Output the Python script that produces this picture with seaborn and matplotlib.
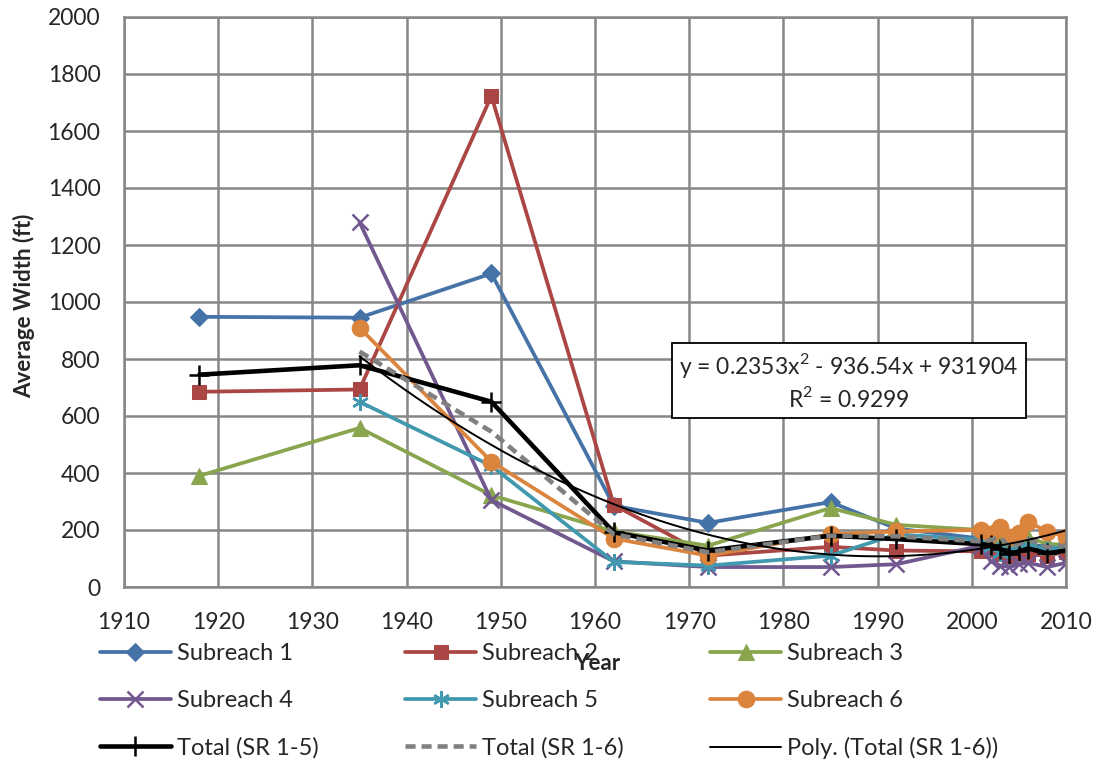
import numpy as np
import pandas as pd
import matplotlib
matplotlib.use("Agg")
import matplotlib.pyplot as plt
import seaborn as sns

# ---------------- data ----------------
years_a = [1918, 1935, 1949, 1962, 1972, 1985, 1992, 2001, 2002, 2003, 2004, 2005, 2006, 2008, 2010]
years_b = [1935, 1949, 1962, 1972, 1985, 1992, 2001, 2002, 2003, 2004, 2005, 2006, 2008, 2010]

sr1 = [948, 945, 1100, 285, 225, 298, 205, 170, 160, 145, 140, 150, 150, 140, 135]
sr2 = [685, 693, 1723, 288, 110, 141, 128, 125, 130, 115, 110, 120, 115, 110, 124]
sr3 = [390, 558, 322, 195, 145, 277, 218, 200, 190, 170, 150, 165, 175, 150, 150]
sr4 = [1280, 305, 90, 70, 70, 80, 145, 90, 75, 70, 80, 85, 70, 85]
sr5 = [650, 425, 88, 75, 110, 185, 165, 140, 120, 130, 140, 145, 130, 145]
sr6 = [910, 440, 170, 110, 185, 195, 200, 185, 211, 175, 189, 229, 194, 177]
tot15 = [745, 778, 650, 192, 128, 180, 168, 150, 148, 135, 115, 125, 135, 118, 128]
tot16 = [826, 545, 185, 122, 180, 178, 160, 165, 175, 140, 150, 170, 140, 145]

x_ticks = list(range(1910, 2011, 10))
y_ticks = list(range(0, 2001, 200))
eq_text = "y = 0.2353x$^2$ - 936.54x + 931904\nR$^2$ = 0.9299"

# ---------------- style ----------------
sns.set_theme(style="white")
plt.rcParams['font.family'] = ['Lato', 'DejaVu Sans']
plt.rcParams['mathtext.fontset'] = 'custom'
plt.rcParams['mathtext.rm'] = 'Lato'

fig = plt.figure(figsize=(11.02, 7.63), dpi=100)
ax = fig.add_axes([124/1102, 1-587/763, (1066-124)/1102, (587-17)/763])

C1, C2, C3, C4, C5, C6 = "#4572A7", "#AA4643", "#89A54E", "#71588F", "#4198AF", "#DB843D"
lw = 2.7

series = [
    ("Subreach 1", years_a, sr1, dict(color=C1, marker="D", markersize=9.5)),
    ("Subreach 2", years_a, sr2, dict(color=C2, marker="s", markersize=10.5)),
    ("Subreach 3", years_a, sr3, dict(color=C3, marker="^", markersize=11)),
    ("Subreach 4", years_b, sr4, dict(color=C4, marker="x", markersize=11, markeredgewidth=1.8)),
    ("Subreach 5", years_b, sr5, dict(color=C5, marker=(6, 2, 0), markersize=12, markeredgewidth=1.8)),
    ("Subreach 6", years_b, sr6, dict(color=C6, marker="o", markersize=12)),
]

handles = {}
for name, xs, ys, kw in series:
    df = pd.DataFrame({"Year": xs, "Width": ys})
    sns.lineplot(data=df, x="Year", y="Width", ax=ax, linewidth=lw,
                 markeredgecolor=kw["color"], label=name, sort=False, **kw)
    handles[name] = ax.get_lines()[-1]

df15 = pd.DataFrame({"Year": years_a, "Width": tot15})
sns.lineplot(data=df15, x="Year", y="Width", ax=ax, color="black", linewidth=3.3,
             marker="+", markersize=15, markeredgewidth=1.8, markeredgecolor="black",
             label="Total (SR 1-5)", sort=False)
handles["Total (SR 1-5)"] = ax.get_lines()[-1]

df16 = pd.DataFrame({"Year": years_b, "Width": tot16})
sns.lineplot(data=df16, x="Year", y="Width", ax=ax, color="#808080", linewidth=3.3,
             linestyle=(0, (2.2, 1.3)), label="Total (SR 1-6)", sort=False)
handles["Total (SR 1-6)"] = ax.get_lines()[-1]

# polynomial trendline (order 2) fitted to Total (SR 1-6)
xb = np.array(years_b, dtype=float)
coef = np.polyfit(xb - 1990, np.array(tot16, dtype=float), 2)
xf = np.linspace(min(years_b), max(years_b), 200)
dfp = pd.DataFrame({"Year": xf, "Width": np.polyval(coef, xf - 1990)})
sns.lineplot(data=dfp, x="Year", y="Width", ax=ax, color="black", linewidth=1.4,
             label="Poly. (Total (SR 1-6))", sort=False)
handles["Poly. (Total (SR 1-6))"] = ax.get_lines()[-1]

# axes
ax.set_xlim(1910, 2010)
ax.set_ylim(0, 2000)
ax.set_xticks(x_ticks)
ax.set_yticks(y_ticks)
ax.tick_params(axis="both", labelsize=16.5, length=0, pad=18)
ax.tick_params(axis="y", pad=17)
ax.grid(True, color="#878787", linewidth=1.8)
ax.set_axisbelow(True)
for sp in ax.spines.values():
    sp.set_color("#878787")
    sp.set_linewidth(1.8)

ax.set_ylabel("Average Width (ft)", fontsize=16, fontweight="bold")
ax.yaxis.set_label_coords(-(124-24)/942, (587-306)/570)
ax.yaxis.label.set_va("center")
ax.set_xlabel("Year", fontsize=16, fontweight="bold")
ax.xaxis.set_label_coords((597-124)/942, -(664-587)/570)
ax.xaxis.label.set_va("center")

ax.text((849-124)/942, (587-381)/570, eq_text, transform=ax.transAxes,
        ha="center", va="center", fontsize=16.5, linespacing=1.25,
        bbox=dict(boxstyle="square,pad=0.3", facecolor="white", edgecolor="black", linewidth=1.3),
        zorder=10)

order = ["Subreach 1", "Subreach 4", "Total (SR 1-5)",
         "Subreach 2", "Subreach 5", "Total (SR 1-6)",
         "Subreach 3", "Subreach 6", "Poly. (Total (SR 1-6))"]
ax.legend([handles[k] for k in order], order, ncol=3, frameon=False, fontsize=17,
          loc="upper left", bbox_to_anchor=(-(124-100)/942, -(643-587)/570),
          handlelength=3.0, handletextpad=0.27, columnspacing=3.65, labelspacing=1.1,
          borderaxespad=0, borderpad=0)

fig.savefig("out.png", dpi=100)
